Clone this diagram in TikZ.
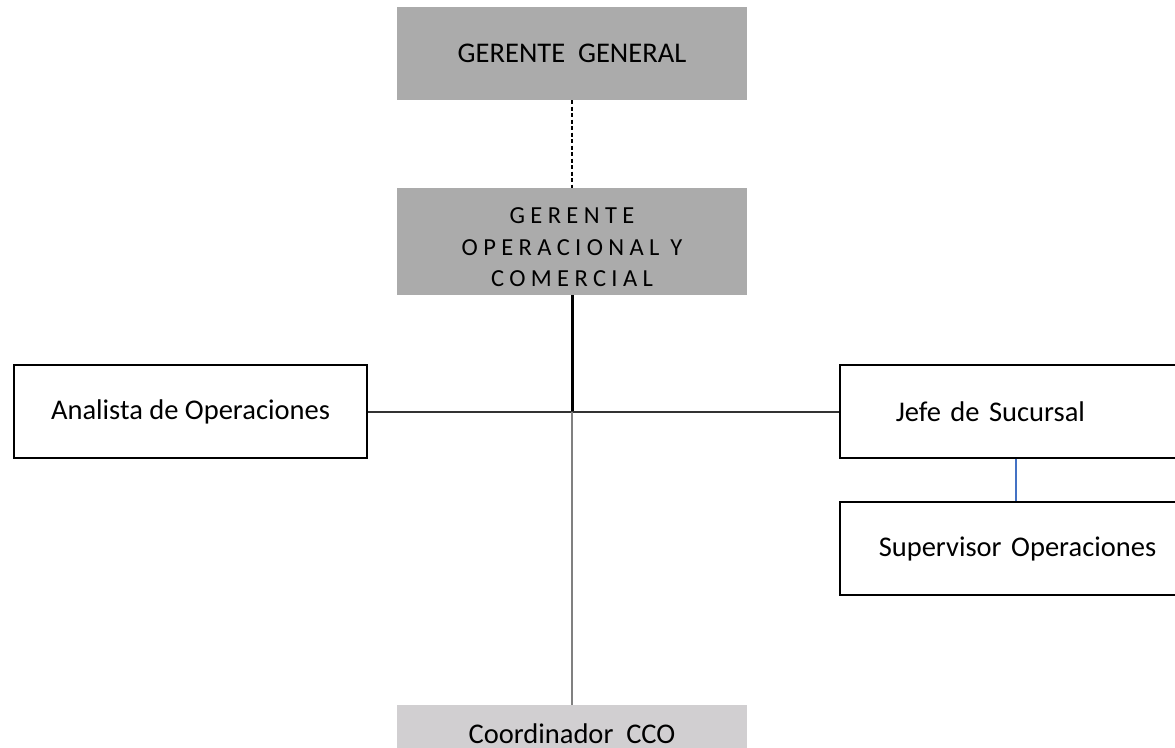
\documentclass[tikz,border=0pt]{standalone}
\usepackage{fontspec}
\setmainfont{Carlito}
\usepackage{xcolor}
\usepackage{tikz}
\definecolor{bossGray}{RGB}{171, 171, 171}
\definecolor{coordGray}{RGB}{209, 207, 209}
\definecolor{lineGray}{RGB}{128, 128, 128}
\definecolor{linkBlue}{RGB}{68, 114, 196}

\begin{document}
\begin{tikzpicture}[x=1pt, y=-1pt,
    graybox/.style={fill=bossGray, draw=none, minimum width=350pt, inner sep=0pt},
    whitebox/.style={draw=black, line width=1.5pt, fill=white, minimum width=353pt, minimum height=93pt, inner sep=0pt, font=\fontsize{28.5}{34}\selectfont},
    link/.style={line width=2pt}]
	\useasboundingbox (0,0) rectangle (1175,747);

	% Top boxes (gray)
	\node[graybox, minimum height=93pt, font=\fontsize{28.5}{34}\selectfont] (gerente) at (572,53.5) {GERENTE\ \ GENERAL};
	\node[graybox, minimum height=107pt, align=center, font=\fontsize{24.5}{31.5}\selectfont\addfontfeature{LetterSpace=22}] (operacional) at (572,241.5) {\rule{0pt}{27.8pt}GERENTE\\OPERACIONAL Y\\COMERCIAL};

	% Side boxes (white)
	\node[whitebox] (analista) at (190.5,411.5) {Analista de Operaciones};
	\node[whitebox, anchor=west, minimum width=338pt, text width=226pt, inner xsep=56pt, align=left] (jefe) at (839,411.5) {Jefe de Sucursal};
	\node[whitebox, anchor=west, minimum width=338pt, text width=300pt, inner xsep=39pt, align=left] (supervisor) at (839,548.5) {Supervisor Operaciones};

	% Bottom box (light gray, cut by the page edge)
	\node[graybox, fill=coordGray, minimum height=80pt, anchor=north, font=\fontsize{28.5}{34}\selectfont, text depth=23pt] (coordinador) at (572,705) {Coordinador\ \ CCO};

	% Connectors
	\coordinate (hub) at (572,412);
	\draw[line width=1.5pt, dash pattern=on 4pt off 2.5pt] (gerente.south) -- (operacional.north);
	\draw[line width=3pt, black] (operacional.south) -- (hub);
	\draw[link, black!80] (analista.east) -- (jefe.west);
	\draw[link, lineGray] (hub) -- (coordinador.north);
	\draw[line width=1.5pt, linkBlue] (jefe.south -| 1016,0) -- (supervisor.north -| 1016,0);
\end{tikzpicture}
\end{document}
